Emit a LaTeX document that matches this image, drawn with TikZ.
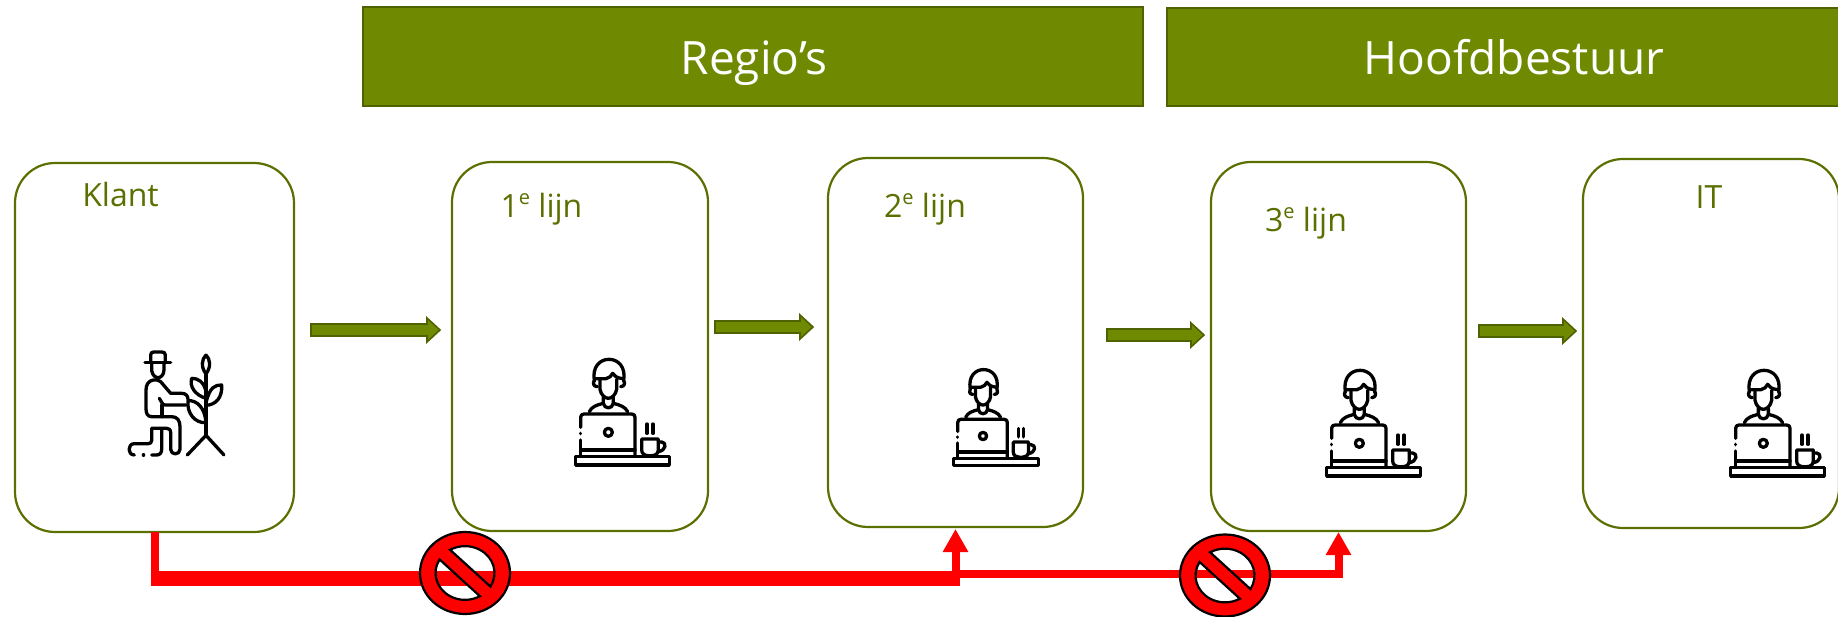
\documentclass[tikz,border=0pt]{standalone}
\usepackage{fontspec}
\setmainfont{Open Sans}
\usetikzlibrary{arrows.meta}
\definecolor{barg}{HTML}{6F8A00}
\definecolor{edgeg}{HTML}{4F6200}
\definecolor{boxg}{HTML}{5A7000}
\definecolor{txtg}{HTML}{5A7000}
\definecolor{redl}{HTML}{FF0000}
\tikzset{
  headbar/.style={draw=edgeg,line width=1.8pt,fill=barg,inner sep=0pt,outer sep=0pt,anchor=north west},
  headtext/.style={text=white,inner sep=0pt,anchor=base,font=\fontsize{46}{56}\selectfont},
  stage/.style={draw=boxg,line width=2.2pt,rounded corners=40pt,fill=white,inner sep=0pt,outer sep=0pt,anchor=north west},
  stagelabel/.style={text=txtg,inner sep=0pt,anchor=base,font=\fontsize{32}{38}\selectfont},
  blockarrow/.style={draw=edgeg,line width=1.6pt,fill=barg,line join=miter},
  redpipe/.style={draw=redl,line width=8pt},
  redtip/.style={-{Triangle[length=23pt,width=24pt]}},
  iconline/.style={draw=black,line width=3.3pt,line cap=round,line join=round},
}
\newcommand{\blockarr}[4]{% name, x0, x1, y
 \draw[blockarrow] (#2,#4-6) -- (#3-13,#4-6) -- (#3-13,#4-12) -- (#3,#4) -- (#3-13,#4+12) -- (#3-13,#4+6) -- (#2,#4+6) -- cycle;
 \coordinate (#1) at (#3,#4);}
\newcommand{\personicon}[3]{%
 \begin{scope}[shift={(#1,#2)},x=#3pt,y=-#3pt,iconline]
  \draw (103,122) .. controls (96,80) and (120,58) .. (147,58) .. controls (174,58) and (198,80) .. (191,122);
  \draw (106,116) -- (138,116) .. controls (148,114) and (154,108) .. (158,100) .. controls (163,108) and (170,114) .. (188,116);
  \draw (120,118) -- (120,148) .. controls (123,165) and (135,175) .. (145,175) .. controls (155,175) and (167,165) .. (170,148) -- (170,118);
  \draw (103,122) .. controls (98,128) and (100,140) .. (112,140);
  \draw (191,122) .. controls (196,128) and (194,140) .. (182,140);
  \draw (130,172) -- (130,190) .. controls (133,208) and (157,208) .. (160,190) -- (160,172);
  \draw (88,215) .. controls (95,200) and (110,195) .. (130,190);
  \draw (160,190) .. controls (180,195) and (195,200) .. (203,215);
  \draw (62,262) -- (62,232) .. controls (62,225) and (66,222) .. (72,222) -- (215,222) .. controls (222,222) and (225,226) .. (225,232) -- (225,345);
  \draw (62,280) -- (62,281);
  \draw (62,300) -- (62,345);
  \draw (62,330) -- (225,330);
  \draw (145,277) circle[radius=12];
  \draw (47,350) rectangle (328,375);
  \draw (245,297) -- (295,297) -- (295,330) .. controls (295,342) and (285,347) .. (275,347) -- (265,347) .. controls (255,347) and (245,342) .. (245,330) -- cycle;
  \draw (295,306) -- (305,306) .. controls (320,306) and (320,333) .. (293,335);
  \draw (261,252) -- (261,280);
  \draw (279,252) -- (279,280);
 \end{scope}}
\newcommand{\farmericon}[3]{%
 \begin{scope}[shift={(#1,#2)},x=#3pt,y=-#3pt,iconline]
  \draw (135,98) -- (212,98);
  \draw (152,98) -- (152,75) .. controls (152,68) and (156,66) .. (162,66) -- (185,66) .. controls (192,66) and (196,68) .. (196,75) -- (196,98);
  \draw (155,98) -- (155,122) .. controls (158,138) and (168,143) .. (174,143) .. controls (182,143) and (192,135) .. (192,120) -- (192,98);
  \draw (172,150) -- (160,150) .. controls (145,152) and (138,165) .. (138,180) -- (138,235) .. controls (138,250) and (142,260) .. (155,260) -- (215,260) .. controls (232,260) and (240,272) .. (240,290) -- (240,358) .. controls (240,376) and (212,376) .. (212,358) -- (212,308) .. controls (212,298) and (206,295) .. (200,295) -- (155,295);
  \draw (172,150) -- (182,155) -- (212,190) -- (245,190) .. controls (258,190) and (264,198) .. (264,208);
  \draw (178,205) .. controls (185,212) and (185,225) .. (195,225) -- (258,225);
  \draw (186,225) -- (186,260);
  \draw (155,295) -- (155,332) .. controls (155,338) and (150,341) .. (145,341) -- (103,341) .. controls (82,341) and (82,375) .. (103,375);
  \draw (130,375) -- (131,375);
  \draw (155,375) -- (170,375) .. controls (180,375) and (185,368) .. (185,358) -- (185,297);
  \draw (318,135) -- (318,316);
  \draw (262,375) -- (318,316) -- (372,375);
  \draw (318,75) .. controls (305,88) and (302,110) .. (318,132) .. controls (334,110) and (331,88) .. (318,75);
  \draw (318,218) .. controls (330,170) and (345,165) .. (365,165) .. controls (368,205) and (345,225) .. (318,226);
  \draw (318,183) .. controls (310,155) and (295,145) .. (275,145) .. controls (268,170) and (285,195) .. (318,205);
  \draw (264,212) .. controls (292,210) and (315,235) .. (318,278) .. controls (285,280) and (260,250) .. (264,212);
 \end{scope}}
\newcommand{\nosign}[2]{%
 \begin{scope}[shift={(#1,#2)},x=45pt,y=41pt]
  \path[fill=redl,draw=black,line width=2.2pt,even odd rule]
    (1,0) arc[start angle=0,end angle=360,radius=1]
    (-30.3:0.655) arc[start angle=-30.3,end angle=120.3,radius=0.655] -- cycle
    (149.7:0.655) arc[start angle=149.7,end angle=300.3,radius=0.655] -- cycle;
 \end{scope}}
\newcommand{\sufe}{\raisebox{0.42em}{\fontsize{20}{24}\selectfont e}}
\begin{document}
\begin{tikzpicture}[x=1pt,y=-1pt]
\useasboundingbox (0,0) rectangle (1838,617);
\fill[white] (0,0) rectangle (1838,617);
% header bars
\node[headbar,minimum width=780pt,minimum height=99pt] (regio) at (363,7) {};
\node[headtext] (regiot) at (754,75) {Regio’s};
\node[headbar,minimum width=700pt,minimum height=98pt] (hoofd) at (1167,8) {};
\node[headtext] (hoofdt) at (1514,75) {Hoofdbestuur};
% stages
\node[stage,minimum width=279pt,minimum height=369pt] (k) at (15,163) {};
\node[stage,minimum width=256pt,minimum height=369pt] (l1) at (452,162) {};
\node[stage,minimum width=255pt,minimum height=369pt] (l2) at (828,158) {};
\node[stage,minimum width=255pt,minimum height=369pt] (l3) at (1211,162) {};
\node[stage,minimum width=256pt,minimum height=369pt] (it) at (1583,159) {};
% labels
\node[stagelabel] (kt) at (120.5,207) {Klant};
\node[stagelabel] (l1t) at (541.5,218) {1\sufe{} lijn};
\node[stagelabel] (l2t) at (925,218) {2\sufe{} lijn};
\node[stagelabel] (l3t) at (1306,232) {3\sufe{} lijn};
\node[stagelabel] (itt) at (1709,209) {IT};
% block arrows
\blockarr{a1}{311}{440}{330}
\blockarr{a2}{715}{813}{327}
\blockarr{a3}{1107}{1204}{335}
\blockarr{a4}{1479}{1576}{331}
% icons
\farmericon{100}{330}{0.3333}
\personicon{560}{340}{0.3333}
\personicon{939}{352}{0.3033}
\personicon{1311}{351}{0.3333}
\personicon{1715}{351}{0.3333}
% red connectors
\coordinate (kdrop) at ([yshift=-46pt]k.south);
\coordinate (kbend) at ([yshift=-46pt,xshift=-4pt]k.south);
\coordinate (junc) at (kbend -| l2.south);
\draw[redpipe] (k.south) -- (kdrop);
\draw[draw=redl,line width=15pt] (kbend) -- ([xshift=4pt]junc);
\draw[redpipe,redtip] (junc) -- ([yshift=-2pt]l2.south);
\coordinate (thin) at ([yshift=4pt]junc);
\draw[redpipe,redtip] (thin) -| ([yshift=-1pt]l3.south);
\nosign{465}{573}
\nosign{1225}{575.5}
\end{tikzpicture}
\end{document}
